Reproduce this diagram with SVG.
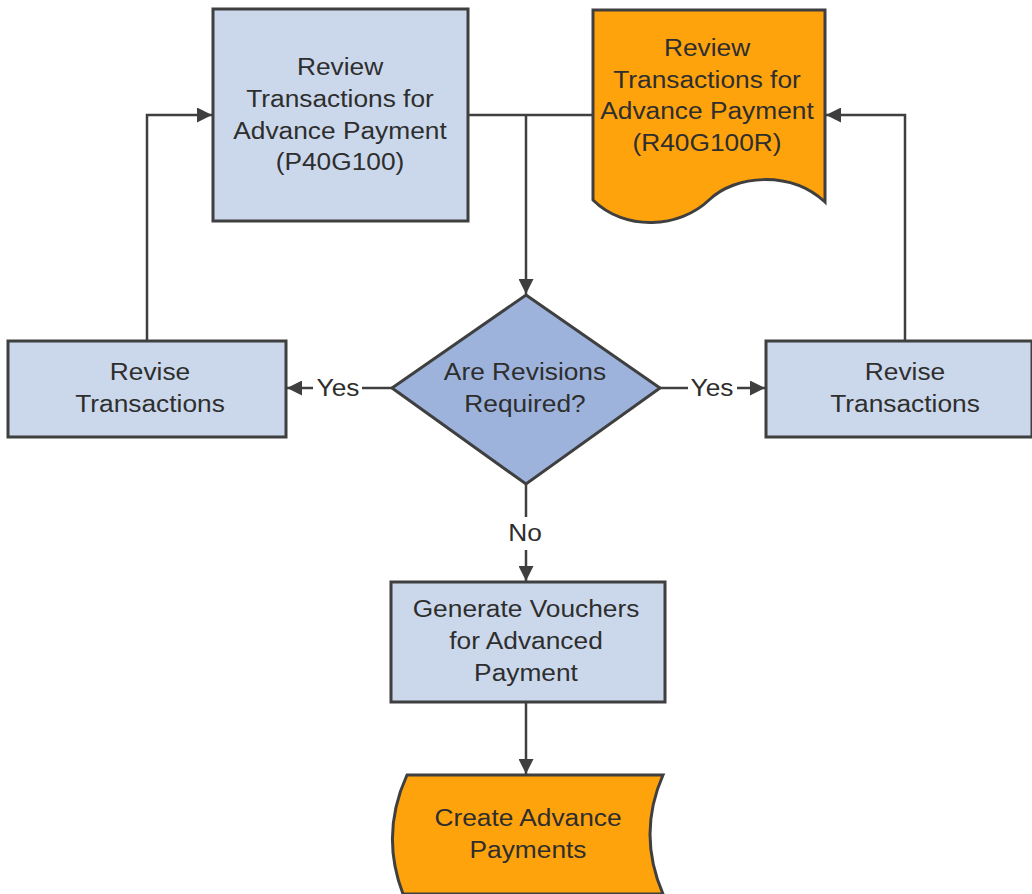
<svg xmlns="http://www.w3.org/2000/svg" width="1032" height="894" viewBox="0 0 1032 894">
<style>
.box{fill:#cbd8eb;stroke:#3f3f3f;stroke-width:3}
.dia{fill:#9db3dc;stroke:#3f3f3f;stroke-width:3}
.org{fill:#ffa30d;stroke:#3f3f3f;stroke-width:3}
.t{font-family:"Liberation Sans",Arial,sans-serif;font-size:23.5px;fill:#2e2e2e;text-anchor:middle}
.c{fill:none;stroke:#3f3f3f;stroke-width:2.5}
</style>
<defs>
<marker id="a" viewBox="0 0 14 14" refX="14" refY="7" markerWidth="15" markerHeight="15" markerUnits="userSpaceOnUse" orient="auto">
<path d="M0,0 L14,7 L0,14 Z" fill="#3f3f3f"/>
</marker>
</defs>
<rect width="1032" height="894" fill="#ffffff"/>
<g id="connectors">
<path class="c" d="M468,115 H593"/>
<path class="c" d="M526,115 V294" marker-end="url(#a)"/>
<path class="c" d="M147,341 V115 H212" marker-end="url(#a)"/>
<path class="c" d="M905,341 V115 H826" marker-end="url(#a)"/>
<path class="c" d="M392,388 H362"/>
<path class="c" d="M313,388 H287" marker-end="url(#a)"/>
<text class="t" transform="matrix(1.12 0 0 1 338 396)">Yes</text>
<path class="c" d="M660,388 H688"/>
<path class="c" d="M737,388 H765" marker-end="url(#a)"/>
<text class="t" transform="matrix(1.12 0 0 1 712 396)">Yes</text>
<path class="c" d="M526,484 V517"/>
<path class="c" d="M526,550 V581" marker-end="url(#a)"/>
<text class="t" transform="matrix(1.12 0 0 1 525 541)">No</text>
<path class="c" d="M526,702 V774" marker-end="url(#a)"/>
</g>
<g id="review-p40g100">
<rect class="box" x="213" y="9" width="255" height="212"/>
<text class="t" transform="matrix(1.12 0 0 1 340 0)"><tspan x="0" y="75">Review</tspan><tspan x="0" y="107">Transactions for</tspan><tspan x="0" y="139">Advance Payment</tspan><tspan x="0" y="170">(P40G100)</tspan></text>
</g>
<g id="review-r40g100r">
<path class="org" d="M593,10 H825 V202 C790,170 735,175 709,200 C680,228 625,232 593,200 Z"/>
<text class="t" transform="matrix(1.12 0 0 1 707 0)"><tspan x="0" y="56">Review</tspan><tspan x="0" y="88">Transactions for</tspan><tspan x="0" y="119">Advance Payment</tspan><tspan x="0" y="151">(R40G100R)</tspan></text>
</g>
<g id="decision">
<path class="dia" d="M526,295 L660,388 L526,484 L392,388 Z"/>
<text class="t" transform="matrix(1.12 0 0 1 525 0)"><tspan x="0" y="380">Are Revisions</tspan><tspan x="0" y="412">Required?</tspan></text>
</g>
<g id="revise-left">
<rect class="box" x="8" y="341" width="278" height="96"/>
<text class="t" transform="matrix(1.12 0 0 1 150 0)"><tspan x="0" y="380">Revise</tspan><tspan x="0" y="412">Transactions</tspan></text>
</g>
<g id="revise-right">
<rect class="box" x="766" y="341" width="266" height="96"/>
<text class="t" transform="matrix(1.12 0 0 1 905 0)"><tspan x="0" y="380">Revise</tspan><tspan x="0" y="412">Transactions</tspan></text>
</g>
<g id="generate-vouchers">
<rect class="box" x="391" y="582" width="274" height="120"/>
<text class="t" transform="matrix(1.12 0 0 1 526 0)"><tspan x="0" y="617">Generate Vouchers</tspan><tspan x="0" y="649">for Advanced</tspan><tspan x="0" y="681">Payment</tspan></text>
</g>
<g id="create-advance-payments">
<path class="org" d="M407,775 H663 Q637,834 663,894 H403 Q380,834 407,775 Z"/>
<text class="t" transform="matrix(1.12 0 0 1 528 0)"><tspan x="0" y="826">Create Advance</tspan><tspan x="0" y="858">Payments</tspan></text>
</g>
</svg>
